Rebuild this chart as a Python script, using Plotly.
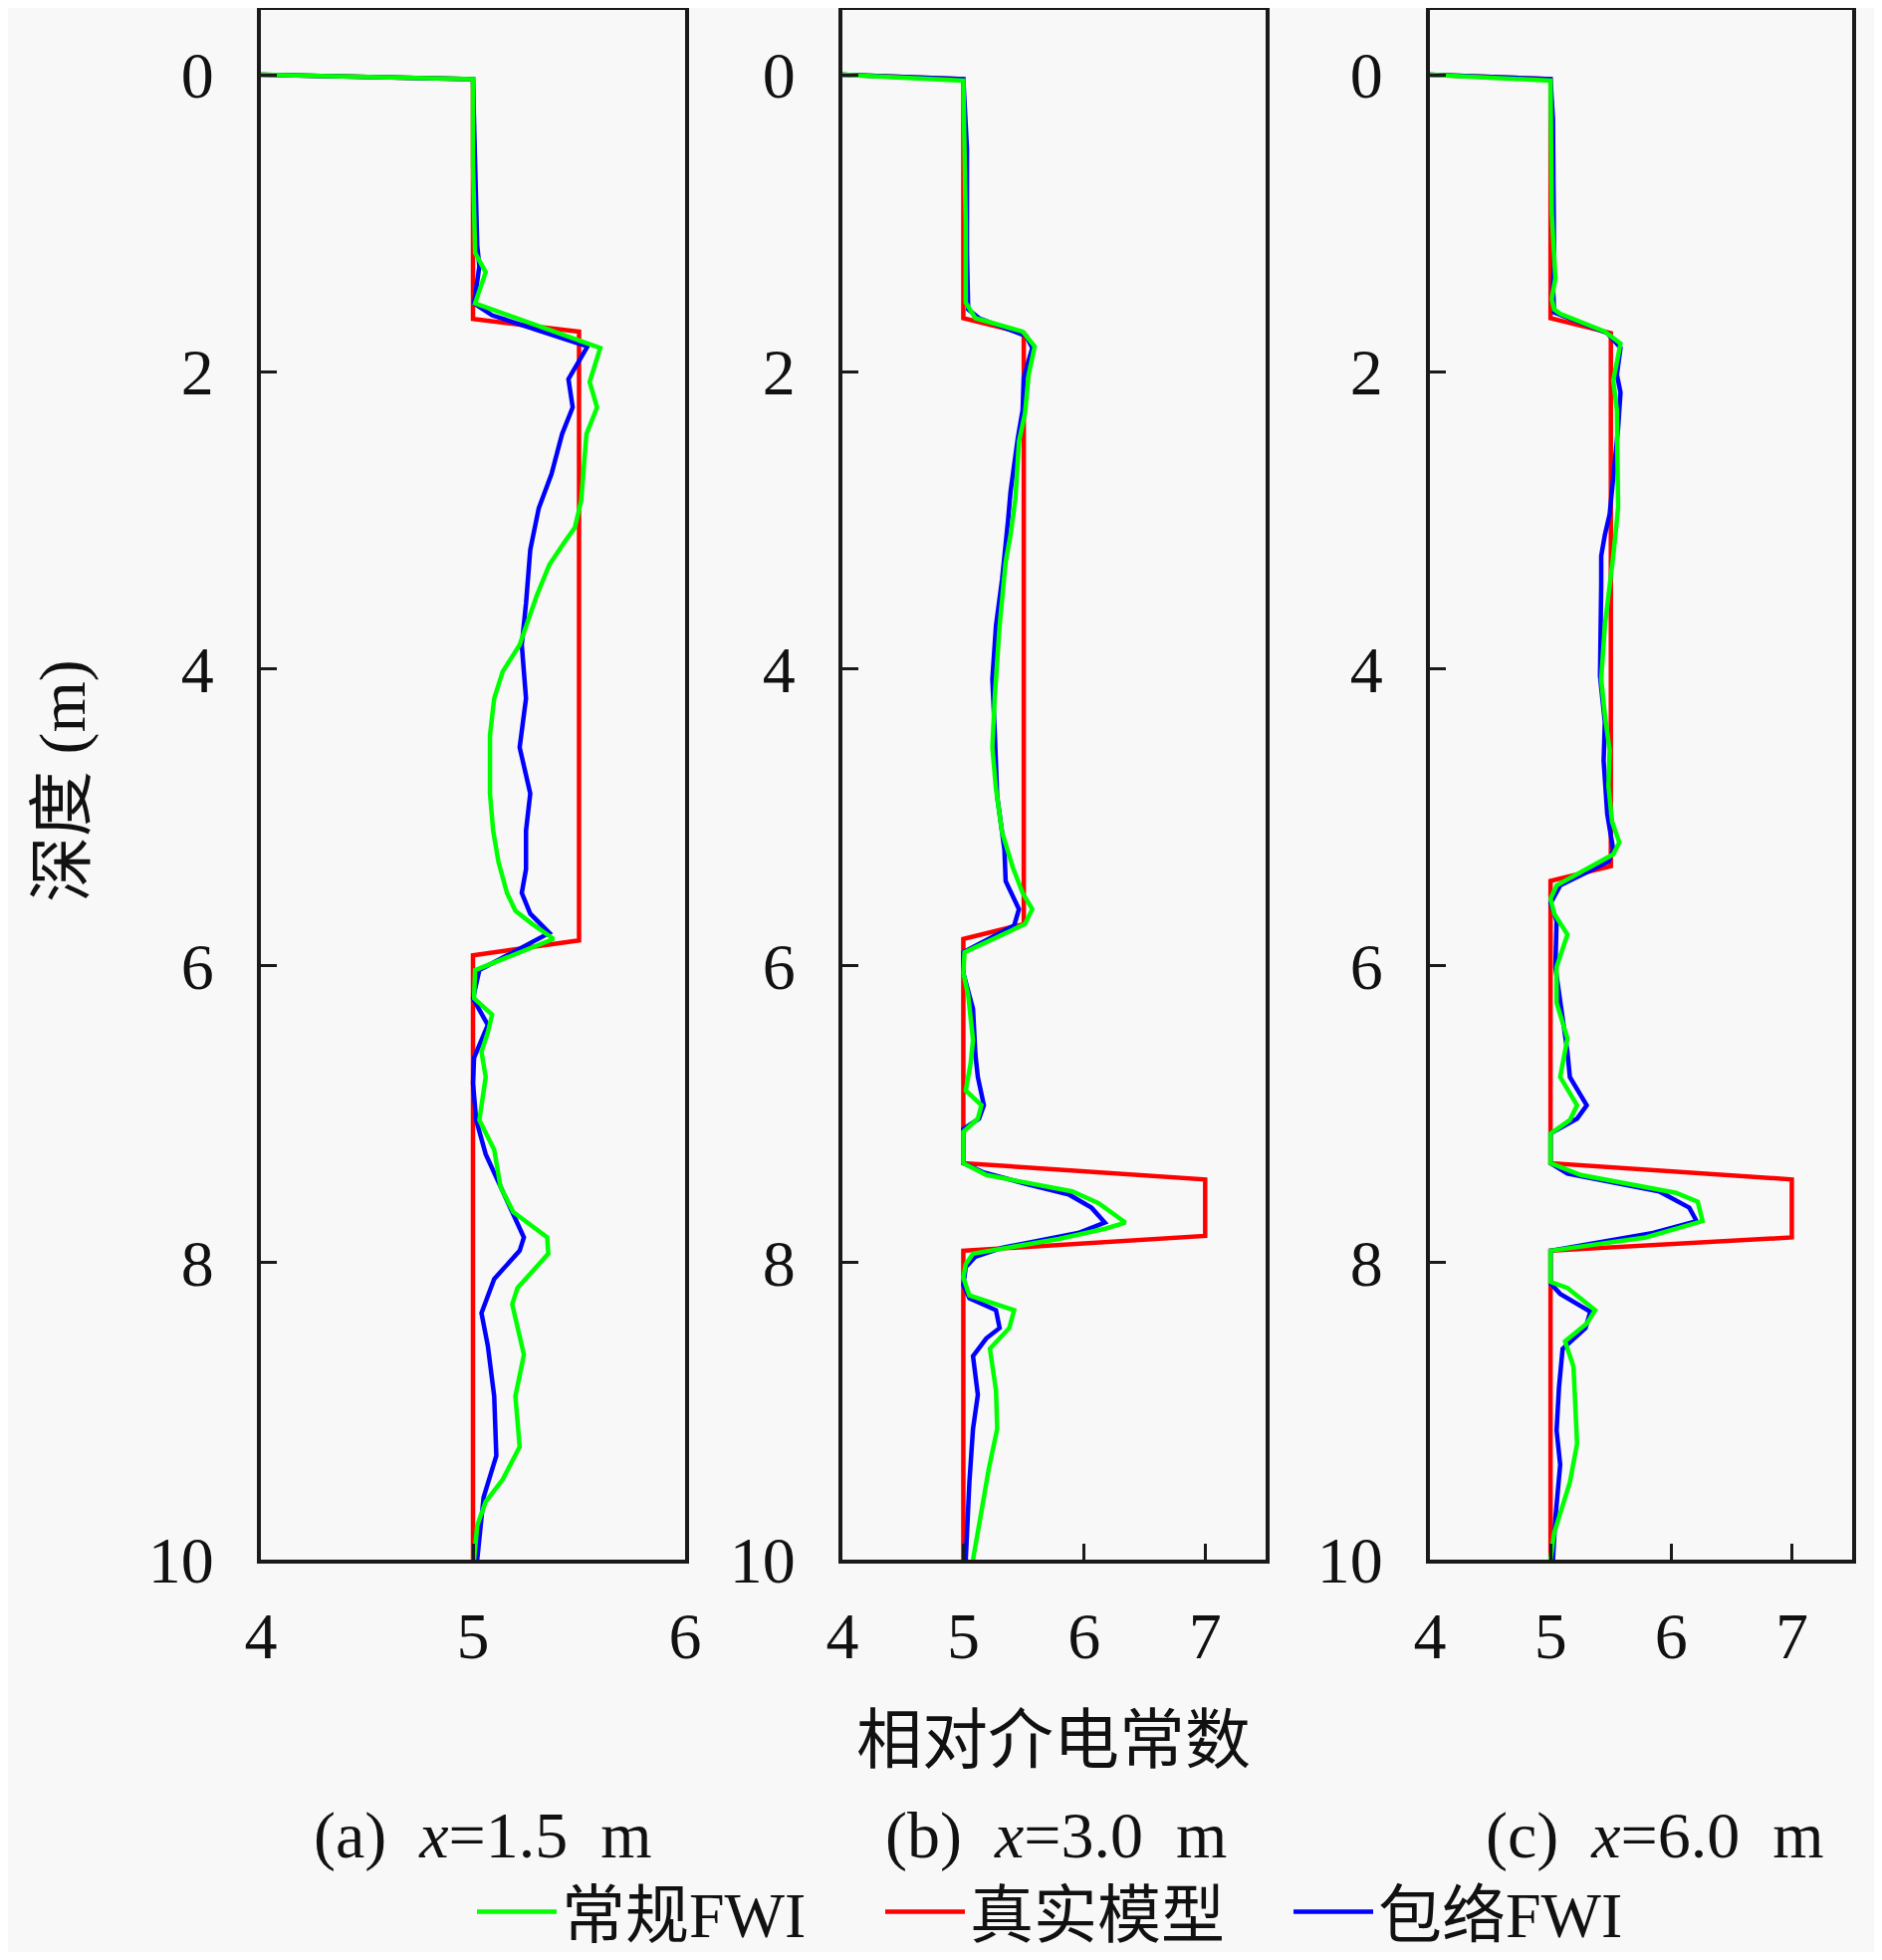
import plotly.graph_objects as go

# depth (m) / relative permittivity
a_true_eps = [4.0, 5.0, 5.0, 5.5, 5.5, 5.0, 5.0]
a_true_z = [0.0, 0.03, 1.645, 1.73, 5.83, 5.93, 10.0]
a_conv_eps = [4.0, 5.0, 5.0, 5.01, 5.06, 5.01, 5.60, 5.55, 5.585, 5.535, 5.51, 5.48, 5.43, 5.36, 5.30,
              5.22, 5.14, 5.10, 5.08, 5.08, 5.095, 5.12, 5.16, 5.20, 5.28, 5.38, 5.01, 5.005, 5.09, 5.07,
              5.04, 5.06, 5.03, 5.10, 5.13, 5.19, 5.35, 5.355, 5.21, 5.185, 5.24, 5.20, 5.22, 5.14, 5.06,
              5.02, 5.005]
a_conv_z = [0.0, 0.03, 0.6, 1.2, 1.33, 1.54, 1.84, 2.07, 2.24, 2.42, 2.87, 3.05, 3.15, 3.30, 3.51,
            3.84, 4.02, 4.20, 4.45, 4.84, 5.09, 5.30, 5.51, 5.63, 5.72, 5.82, 6.03, 6.22, 6.33, 6.45,
            6.58, 6.75, 7.04, 7.24, 7.49, 7.66, 7.83, 7.94, 8.17, 8.28, 8.62, 8.90, 9.24, 9.46, 9.61,
            9.77, 10.0]
a_env_eps = [4.0, 5.0, 5.01, 5.02, 5.03, 5.005, 5.09, 5.45, 5.54, 5.45, 5.47, 5.42, 5.37, 5.31, 5.27,
             5.25, 5.23, 5.25, 5.22, 5.27, 5.25, 5.25, 5.23, 5.27, 5.36, 5.03, 5.0, 5.07, 5.005, 5.0,
             5.015, 5.06, 5.14, 5.24, 5.22, 5.10, 5.04, 5.07, 5.10, 5.11, 5.05, 5.03, 5.02]
a_env_z = [0.0, 0.03, 0.6, 1.15, 1.29, 1.54, 1.62, 1.79, 1.83, 2.05, 2.24, 2.42, 2.69, 2.92, 3.20,
           3.56, 3.84, 4.20, 4.53, 4.84, 5.09, 5.35, 5.51, 5.65, 5.78, 6.03, 6.22, 6.40, 6.62, 6.79,
           7.04, 7.27, 7.52, 7.83, 7.92, 8.11, 8.34, 8.56, 8.90, 9.30, 9.58, 9.89, 10.0]

b_true_eps = [4.0, 5.0, 5.0, 5.5, 5.5, 5.0, 5.0, 7.0, 7.0, 5.0, 5.0]
b_true_z = [0.0, 0.03, 1.64, 1.74, 5.72, 5.82, 7.33, 7.44, 7.82, 7.92, 10.0]
b_conv_eps = [4.0, 5.0, 5.02, 5.02, 5.10, 5.49, 5.59, 5.54, 5.51, 5.46, 5.43, 5.39, 5.35, 5.30, 5.26,
              5.24, 5.27, 5.32, 5.41, 5.49, 5.57, 5.51, 5.01, 5.0, 5.04, 5.08, 5.06, 5.02, 5.15, 5.12,
              5.0, 5.0, 5.19, 5.90, 6.12, 6.34, 6.18, 5.79, 5.08, 5.02, 5.0, 5.05, 5.42, 5.38, 5.22,
              5.27, 5.28, 5.21, 5.14, 5.08]
b_conv_z = [0.0, 0.04, 1.0, 1.535, 1.64, 1.73, 1.83, 2.02, 2.28, 2.47, 2.86, 3.10, 3.28, 3.71, 4.19,
            4.53, 4.81, 5.10, 5.34, 5.51, 5.62, 5.72, 5.91, 6.05, 6.20, 6.50, 6.66, 6.84, 6.94, 7.03,
            7.12, 7.33, 7.41, 7.52, 7.60, 7.73, 7.77, 7.84, 7.94, 8.01, 8.10, 8.22, 8.32, 8.44, 8.58,
            8.86, 9.12, 9.39, 9.72, 10.0]
b_env_eps = [4.0, 5.0, 5.03, 5.03, 5.04, 5.13, 5.52, 5.57, 5.50, 5.49, 5.45, 5.39, 5.37, 5.32, 5.27,
             5.24, 5.26, 5.28, 5.34, 5.35, 5.46, 5.42, 5.0, 5.0, 5.08, 5.10, 5.12, 5.17, 5.13, 5.0,
             5.0, 5.16, 5.52, 5.87, 6.06, 6.17, 5.95, 5.32, 5.10, 5.02, 5.0, 5.05, 5.27, 5.30, 5.19,
             5.08, 5.12, 5.08, 5.05, 5.02]
b_env_z = [0.0, 0.03, 0.5, 1.2, 1.58, 1.64, 1.76, 1.84, 2.04, 2.26, 2.45, 2.81, 3.0, 3.40, 3.71,
           4.07, 4.43, 4.86, 5.22, 5.43, 5.62, 5.73, 5.91, 6.05, 6.29, 6.60, 6.75, 6.94, 7.03, 7.10,
           7.33, 7.39, 7.47, 7.54, 7.63, 7.73, 7.80, 7.90, 7.96, 8.03, 8.15, 8.24, 8.32, 8.44, 8.51,
           8.63, 8.89, 9.12, 9.48, 10.0]

c_true_eps = [4.0, 5.0, 5.0, 5.5, 5.5, 5.0, 5.0, 7.0, 7.0, 5.0, 5.0]
c_true_z = [0.0, 0.03, 1.64, 1.74, 5.33, 5.43, 7.33, 7.44, 7.83, 7.92, 10.0]
c_conv_eps = [4.0, 5.0, 5.01, 5.04, 5.01, 5.03, 5.08, 5.45, 5.58, 5.53, 5.52, 5.55, 5.56, 5.56, 5.55,
              5.52, 5.45, 5.42, 5.45, 5.49, 5.48, 5.51, 5.57, 5.52, 5.05, 5.0, 5.03, 5.14, 5.05, 5.05,
              5.14, 5.10, 5.08, 5.22, 5.16, 5.0, 5.0, 5.25, 6.04, 6.22, 6.26, 5.79, 5.0, 5.0, 5.14,
              5.37, 5.30, 5.12, 5.19, 5.22, 5.16, 5.03, 5.0]
c_conv_z = [0.0, 0.04, 0.93, 1.37, 1.51, 1.58, 1.61, 1.73, 1.81, 1.99, 2.06, 2.26, 2.62, 2.91, 3.0,
            3.24, 3.71, 4.07, 4.31, 4.55, 4.79, 5.03, 5.17, 5.25, 5.46, 5.55, 5.65, 5.79, 6.01, 6.25,
            6.49, 6.65, 6.75, 6.94, 7.04, 7.13, 7.33, 7.41, 7.53, 7.59, 7.72, 7.83, 7.92, 8.13, 8.17,
            8.32, 8.41, 8.53, 8.70, 9.22, 9.48, 9.82, 10.0]
c_env_eps = [4.0, 5.0, 5.02, 5.03, 5.02, 5.03, 5.47, 5.58, 5.55, 5.58, 5.56, 5.52, 5.49, 5.45, 5.42,
             5.42, 5.41, 5.45, 5.44, 5.47, 5.49, 5.52, 5.48, 5.08, 5.0, 5.05, 5.04, 5.08, 5.14, 5.16,
             5.30, 5.22, 5.0, 5.0, 5.14, 5.90, 6.15, 6.21, 5.85, 5.0, 5.0, 5.08, 5.33, 5.29, 5.10,
             5.07, 5.05, 5.08, 5.04, 5.02]
c_env_z = [0.0, 0.03, 0.3, 1.29, 1.42, 1.60, 1.74, 1.84, 2.02, 2.14, 2.38, 2.74, 2.96, 3.10, 3.24,
           3.43, 4.05, 4.36, 4.62, 4.98, 5.08, 5.22, 5.30, 5.46, 5.58, 5.70, 6.01, 6.22, 6.58, 6.75,
           6.94, 7.03, 7.13, 7.33, 7.40, 7.52, 7.63, 7.72, 7.80, 7.92, 8.14, 8.21, 8.33, 8.44, 8.58,
           8.84, 9.13, 9.36, 9.72, 10.0]

panels = [
    (a_true_eps, a_true_z, a_conv_eps, a_conv_z, a_env_eps, a_env_z),
    (b_true_eps, b_true_z, b_conv_eps, b_conv_z, b_env_eps, b_env_z),
    (c_true_eps, c_true_z, c_conv_eps, c_conv_z, c_env_eps, c_env_z),
]
x_ranges = [[4, 6], [4, 7.5], [4, 7.5]]
x_ticks = [[4, 5, 6], [4, 5, 6, 7], [4, 5, 6, 7]]
depth_ticks = [0, 2, 4, 6, 8, 10]
subtitles = ["(a)&nbsp; <i>x</i>=1.5&nbsp; m", "(b)&nbsp; <i>x</i>=3.0&nbsp; m",
             "(c)&nbsp; <i>x</i>=6.0&nbsp; m"]

# the page body keeps its 8px margin, so the figure is 16px smaller than the window
OFF = 8
W, H = 1890 - 2 * OFF, 1968 - 2 * OFF


def px(x):
    return (x - OFF) / W


def py(y):
    return 1 - (y - OFF) / H


domains = [[px(262), px(688)], [px(846), px(1271)], [px(1436), px(1860)]]
ydom = [py(1566), py(10)]
sub_x = [485, 1060, 1662]

FONT = "Liberation Serif, Noto Sans CJK SC, serif"
BG = "#f8f8f8"
FS = 66

fig = go.Figure()
for i, (te, tz, ce, cz, ee, ez) in enumerate(panels):
    ax = "" if i == 0 else str(i + 1)
    first = i == 0
    fig.add_trace(go.Scatter(x=te, y=tz, mode="lines", name="真实模型", legendrank=2,
                             line=dict(color="#ff0000", width=4.5), showlegend=first,
                             xaxis="x" + ax, yaxis="y" + ax))
    fig.add_trace(go.Scatter(x=ee, y=ez, mode="lines", name="包络FWI", legendrank=3,
                             line=dict(color="#0000ff", width=4.5), showlegend=first,
                             xaxis="x" + ax, yaxis="y" + ax))
    fig.add_trace(go.Scatter(x=ce, y=cz, mode="lines", name="常规FWI", legendrank=1,
                             line=dict(color="#00ff00", width=4.5), showlegend=first,
                             xaxis="x" + ax, yaxis="y" + ax))

    axis_style = dict(showline=True, linewidth=4, linecolor="#1a1a1a", mirror=True,
                      ticks="inside", ticklen=16, tickwidth=3, tickcolor="#1a1a1a",
                      showgrid=False, zeroline=False, automargin=False,
                      tickfont=dict(family=FONT, size=FS, color="#111"))
    fig.layout["xaxis" + ax] = dict(axis_style, domain=domains[i], range=x_ranges[i],
                                    tickvals=x_ticks[i], anchor="y" + ax,
                                    ticklabelstandoff=16)
    fig.layout["yaxis" + ax] = dict(axis_style, domain=ydom, range=[10.0, -0.436],
                                    tickvals=depth_ticks, anchor="x" + ax,
                                    ticklabelstandoff=30)
    fig.add_annotation(text=subtitles[i], x=px(sub_x[i]), y=py(1843), xref="paper", yref="paper",
                       showarrow=False, xanchor="center", yanchor="middle",
                       font=dict(family=FONT, size=FS, color="#111"))

fig.add_annotation(text="相对介电常数", x=px(1058), y=py(1747), xref="paper", yref="paper",
                   showarrow=False, xanchor="center", yanchor="middle",
                   font=dict(family=FONT, size=FS, color="#111"))
fig.add_annotation(text="深度 (m)", x=px(63), y=py(784), xref="paper", yref="paper",
                   showarrow=False, textangle=-90, xanchor="center", yanchor="middle",
                   font=dict(family=FONT, size=FS, color="#111"))

fig.update_layout(
    width=W, height=H,
    margin=dict(l=0, r=0, t=0, b=0, autoexpand=False),
    paper_bgcolor=BG, plot_bgcolor=BG,
    showlegend=True,
    legend=dict(orientation="h", x=px(474), xanchor="left", y=py(1920), yanchor="middle",
                font=dict(family=FONT, size=64, color="#111"), bgcolor="rgba(0,0,0,0)",
                itemwidth=80, entrywidth=315, entrywidthmode="pixels", tracegroupgap=0),
)

fig.write_html("out.html")
